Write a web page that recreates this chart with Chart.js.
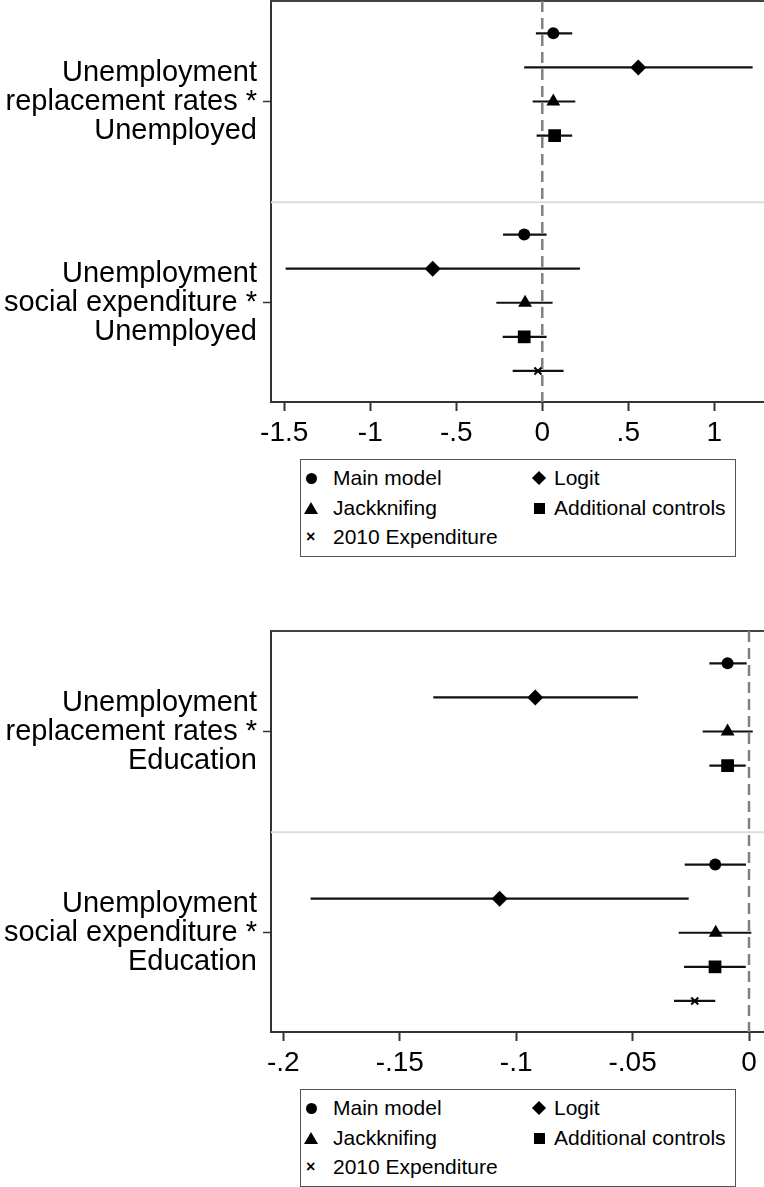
<!DOCTYPE html>
<html>
<head>
<meta charset="utf-8">
<script src="https://cdn.jsdelivr.net/npm/chart.js@4/dist/chart.umd.min.js"></script>
<style>
body { margin: 0; background: #fff; width: 764px; height: 1187px; position: relative; overflow: hidden; font-family: "Liberation Sans", Arial, sans-serif; }
canvas { position: absolute; left: 0; }
.legend { position: absolute; left: 300px; width: 434px; border: 1.5px solid #555; background: #fff; }
.item { position: absolute; font-size: 21px; line-height: 24px; color: #000; white-space: nowrap; }
.mk { position: absolute; }
.mk.circle { width: 11px; height: 11px; border-radius: 50%; background: #000; }
.mk.rectRot { width: 10px; height: 10px; background: #000; transform: rotate(45deg); }
.mk.triangle { width: 0; height: 0; border-left: 7px solid transparent; border-right: 7px solid transparent; border-bottom: 12px solid #000; }
.mk.rect { width: 11px; height: 11px; background: #000; }
.mk.crossRot { font-size: 16px; line-height: 16px; font-weight: bold; }
</style>
</head>
<body>
<canvas id="chartTop" width="764" height="455" style="top:0"></canvas>
<canvas id="chartBottom" width="764" height="455" style="top:630px"></canvas>
<div class="legend" id="legendTop" style="top:459px;height:96px"></div>
<div class="legend" id="legendBottom" style="top:1089px;height:96px"></div>
<script>
// --- Data ---
const seriesNames = ['Main model', 'Logit', 'Jackknifing', 'Additional controls', '2010 Expenditure'];
const topRowLabels = [
    ['Unemployment', 'replacement rates *', 'Unemployed'],
    ['Unemployment', 'social expenditure *', 'Unemployed']
];
const bottomRowLabels = [
    ['Unemployment', 'replacement rates *', 'Education'],
    ['Unemployment', 'social expenditure *', 'Education']
];

// each entry: [lower CI, estimate, upper CI] for group 1, group 2
const topMainModel   = [[-0.037, 0.064, 0.174], [-0.228, -0.105, 0.025]];
const topLogit       = [[-0.105, 0.558, 1.223], [-1.492, -0.637, 0.219]];
const topJackknife   = [[-0.056, 0.064, 0.192], [-0.267, -0.100, 0.060]];
const topAddControls = [[-0.033, 0.072, 0.174], [-0.230, -0.105, 0.025]];
const topExp2010     = [null, [-0.172, -0.025, 0.124]];

const bottomMainModel   = [[-0.0170, -0.0092, -0.0010], [-0.0276, -0.0145, -0.0013]];
const bottomLogit       = [[-0.1356, -0.0918, -0.0477], [-0.1883, -0.1071, -0.0259]];
const bottomJackknife   = [[-0.0199, -0.0092, 0.0016], [-0.0302, -0.0143, 0.0010]];
const bottomAddControls = [[-0.0170, -0.0092, -0.0014], [-0.0279, -0.0146, -0.0014]];
const bottomExp2010     = [null, [-0.0322, -0.0233, -0.0145]];

const topTicks = [-1.5, -1, -0.5, 0, 0.5, 1];
const topTickLabels = ['-1.5', '-1', '-.5', '0', '.5', '1'];
const bottomTicks = [-0.2, -0.15, -0.1, -0.05, 0];
const bottomTickLabels = ['-.2', '-.15', '-.1', '-.05', '0'];

// --- Styles ---
const FONT = '"Liberation Sans", Arial, sans-serif';
const pointStyles = ['circle', 'rectRot', 'triangle', 'rect', 'crossRot'];
const pointRadii = [6, 8, 8, 9, 5];
const groupOffset = [0, 5.9];   // row layout of the two coefficient groups
const groupCenter = [3, 8.9];

// --- Plugin: frame, zero line, separator, CI bars ---
const coefPlugin = {
    id: 'coefPlot',
    beforeDatasetsDraw(chart, args, opts) {
        const { ctx, chartArea: a, scales: { x, y } } = chart;
        ctx.save();
        // top border
        ctx.strokeStyle = '#444';
        ctx.lineWidth = 2;
        ctx.beginPath();
        ctx.moveTo(a.left, a.top);
        ctx.lineTo(a.right, a.top);
        ctx.stroke();
        // group separator
        ctx.strokeStyle = '#dcdcdc';
        ctx.beginPath();
        const ys = y.getPixelForValue(5.95);
        ctx.moveTo(a.left, ys);
        ctx.lineTo(a.right, ys);
        ctx.stroke();
        // dashed zero line
        ctx.strokeStyle = '#808080';
        ctx.lineWidth = 2.5;
        ctx.setLineDash([11, 6]);
        const x0 = x.getPixelForValue(0);
        ctx.beginPath();
        ctx.moveTo(x0, a.top);
        ctx.lineTo(x0, a.bottom);
        ctx.stroke();
        ctx.setLineDash([]);
        // confidence intervals
        ctx.strokeStyle = '#111';
        ctx.lineWidth = 2.2;
        (opts.ci || []).forEach(c => {
            const py = y.getPixelForValue(c.y);
            ctx.beginPath();
            ctx.moveTo(x.getPixelForValue(c.lo), py);
            ctx.lineTo(x.getPixelForValue(c.hi), py);
            ctx.stroke();
        });
        ctx.restore();
    }
};

function noPad(sc) {
    sc.paddingTop = 0;
    sc.paddingBottom = 0;
    sc.paddingLeft = 0;
    sc.paddingRight = 0;
}

function buildPanel(canvasId, series, rowLabels, xMin, xMax, ticks, tickLabels) {
    const ci = [];
    const datasets = series.map((groups, s) => {
        const pts = [];
        groups.forEach((g, gi) => {
            if (!g) return;
            const yv = groupOffset[gi] + s + 1;
            ci.push({ lo: g[0], hi: g[2], y: yv });
            pts.push({ x: g[1], y: yv });
        });
        return {
            label: seriesNames[s],
            data: pts,
            pointStyle: pointStyles[s],
            pointRadius: pointRadii[s],
            pointHoverRadius: pointRadii[s],
            backgroundColor: '#000',
            borderColor: '#000',
            pointBorderWidth: pointStyles[s] === 'crossRot' ? 2 : 0
        };
    });

    return new Chart(document.getElementById(canvasId), {
        type: 'scatter',
        data: { datasets },
        options: {
            responsive: false,
            animation: false,
            layout: { autoPadding: false, padding: { top: 1, right: 0, left: 0, bottom: 0 } },
            plugins: { legend: { display: false }, tooltip: { enabled: false }, coefPlot: { ci } },
            scales: {
                x: {
                    type: 'linear',
                    min: xMin,
                    max: xMax,
                    afterBuildTicks: sc => { sc.ticks = ticks.map(v => ({ value: v })); },
                    afterFit: sc => { sc.height = 53; noPad(sc); },
                    ticks: {
                        callback: (v, i) => tickLabels[i],
                        font: { family: FONT, size: 28 },
                        color: '#000',
                        padding: 5,
                        maxRotation: 0
                    },
                    grid: { drawOnChartArea: false, drawTicks: true, tickLength: 9, tickWidth: 2, tickColor: '#333' },
                    border: { display: true, color: '#333', width: 2 }
                },
                y: {
                    type: 'linear',
                    reverse: true,
                    min: 0.053,
                    max: 11.81,
                    afterBuildTicks: sc => { sc.ticks = groupCenter.map(v => ({ value: v })); },
                    afterFit: sc => { sc.width = 271; noPad(sc); },
                    ticks: {
                        callback: (v, i) => rowLabels[i],
                        font: { family: FONT, size: 29, lineHeight: 1.0 },
                        color: '#000',
                        padding: 6
                    },
                    grid: { drawOnChartArea: false, drawTicks: true, tickLength: 8, tickWidth: 1.5, tickColor: '#333' },
                    border: { display: true, color: '#333', width: 2 }
                }
            }
        },
        plugins: [coefPlugin]
    });
}

// --- Legend ---
function buildLegend(id) {
    const box = document.getElementById(id);
    const rows = [18, 48, 77];
    const cols = [{ mk: 10, txt: 32 }, { mk: 238, txt: 253 }];
    seriesNames.forEach((name, i) => {
        const r = rows[Math.floor(i / 2)];
        const c = cols[i % 2];
        const mk = document.createElement('div');
        mk.className = 'mk ' + pointStyles[i];
        if (pointStyles[i] === 'crossRot') {
            mk.textContent = '\u00d7';
            mk.style.left = (c.mk - 5) + 'px';
            mk.style.top = (r - 8) + 'px';
        } else {
            const sz = pointStyles[i] === 'triangle' ? [14, 12] : (pointStyles[i] === 'rectRot' ? [10, 10] : [11, 11]);
            mk.style.left = (c.mk - sz[0] / 2) + 'px';
            mk.style.top = (r - sz[1] / 2) + 'px';
        }
        box.appendChild(mk);
        const t = document.createElement('div');
        t.className = 'item';
        t.textContent = name;
        t.style.left = c.txt + 'px';
        t.style.top = (r - 12) + 'px';
        box.appendChild(t);
    });
}

buildLegend('legendTop');
buildLegend('legendBottom');
buildPanel('chartTop', [topMainModel, topLogit, topJackknife, topAddControls, topExp2010],
    topRowLabels, -1.577, 1.289, topTicks, topTickLabels);
buildPanel('chartBottom', [bottomMainModel, bottomLogit, bottomJackknife, bottomAddControls, bottomExp2010],
    bottomRowLabels, -0.2053, 0.00644, bottomTicks, bottomTickLabels);
</script>
</body>
</html>
